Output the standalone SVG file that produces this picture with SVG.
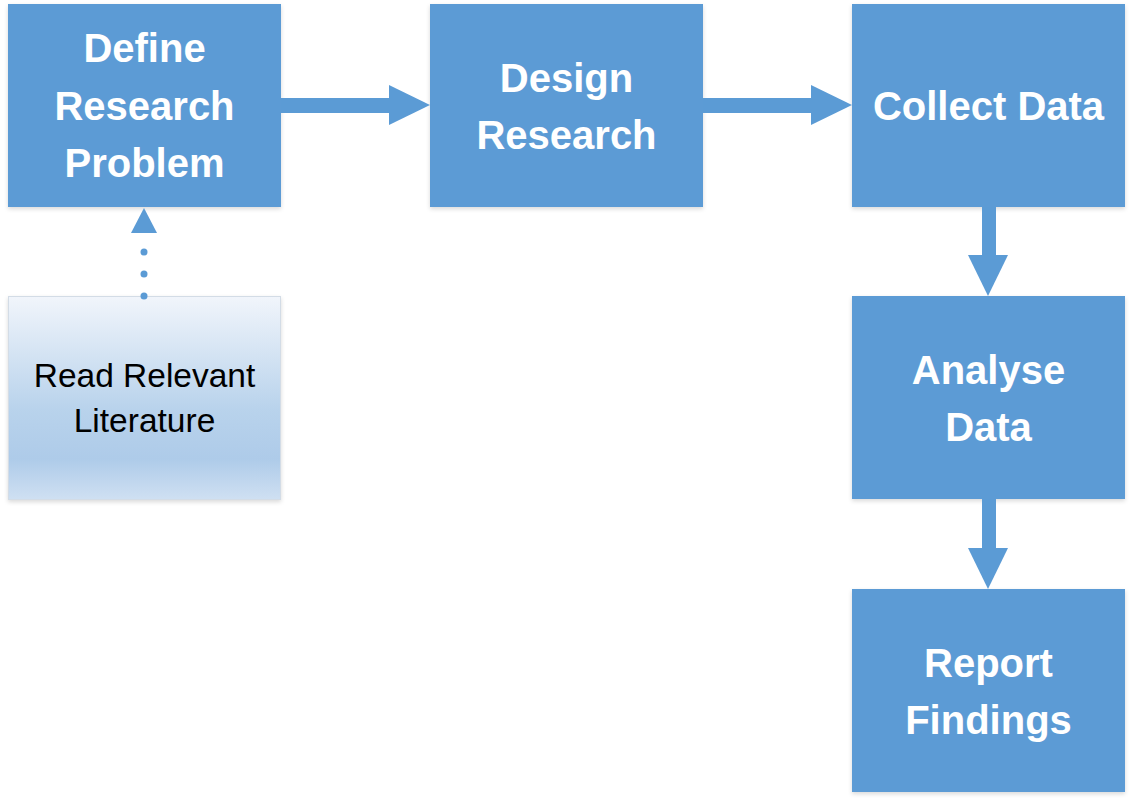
<svg xmlns="http://www.w3.org/2000/svg" width="1135" height="806" viewBox="0 0 1135 806">
<style>
.box{fill:#5b9bd5;}
.t{font-family:"Liberation Sans",Arial,sans-serif;font-weight:bold;font-size:40px;fill:#ffffff;text-anchor:middle;}
.r{font-family:"Liberation Sans",Arial,sans-serif;font-size:33.5px;fill:#000000;text-anchor:middle;}
.conn{fill:#5b9bd5;}
</style>
<defs>
<linearGradient id="g" x1="0" y1="0" x2="0" y2="1">
<stop offset="0" stop-color="#f1f5fb"/>
<stop offset="0.55" stop-color="#b9d3ec"/>
<stop offset="0.8" stop-color="#aecbe9"/>
<stop offset="1" stop-color="#cfe0f2"/>
</linearGradient>
<filter id="sh" x="-5%" y="-5%" width="110%" height="115%">
<feDropShadow dx="0" dy="2" stdDeviation="2" flood-color="#000" flood-opacity="0.15"/>
</filter>
</defs>
<g id="define">
<rect class="box" x="8" y="4" width="273" height="203" filter="url(#sh)"/>
<text class="t" x="144.5" y="62">Define</text>
<text class="t" x="144.5" y="120">Research</text>
<text class="t" x="144.5" y="177">Problem</text>
</g>
<g id="design">
<rect class="box" x="430" y="4" width="273" height="203" filter="url(#sh)"/>
<text class="t" x="566.5" y="92">Design</text>
<text class="t" x="566.5" y="149">Research</text>
</g>
<g id="collect">
<rect class="box" x="852" y="4" width="273" height="203" filter="url(#sh)"/>
<text class="t" x="988.5" y="120">Collect Data</text>
</g>
<g id="analyse">
<rect class="box" x="852" y="296" width="273" height="203" filter="url(#sh)"/>
<text class="t" x="988.5" y="384">Analyse</text>
<text class="t" x="988.5" y="441">Data</text>
</g>
<g id="report">
<rect class="box" x="852" y="589" width="273" height="203" filter="url(#sh)"/>
<text class="t" x="988.5" y="677">Report</text>
<text class="t" x="988.5" y="734">Findings</text>
</g>
<g id="read">
<rect x="8.5" y="296.5" width="272" height="203" fill="url(#g)" stroke="#d3dce6" stroke-width="1" filter="url(#sh)"/>
<text class="r" x="144.5" y="387">Read Relevant</text>
<text class="r" x="144.5" y="432">Literature</text>
</g>
<g id="connectors">
<rect class="conn" x="281" y="98" width="110" height="15"/>
<polygon class="conn" points="389,85 430,105 389,125"/>
<rect class="conn" x="703" y="98" width="110" height="15"/>
<polygon class="conn" points="811,85 852,105 811,125"/>
<rect class="conn" x="982" y="207" width="14" height="50"/>
<polygon class="conn" points="968,255 1008,255 988,296"/>
<rect class="conn" x="982" y="499" width="14" height="50"/>
<polygon class="conn" points="968,548 1008,548 988,589"/>
<polygon class="conn" points="144,208 157,233 131,233"/>
<circle class="conn" cx="144" cy="252" r="3.5"/>
<circle class="conn" cx="144" cy="274" r="3.5"/>
<circle class="conn" cx="144" cy="296" r="3.5"/>
</g>
</svg>
